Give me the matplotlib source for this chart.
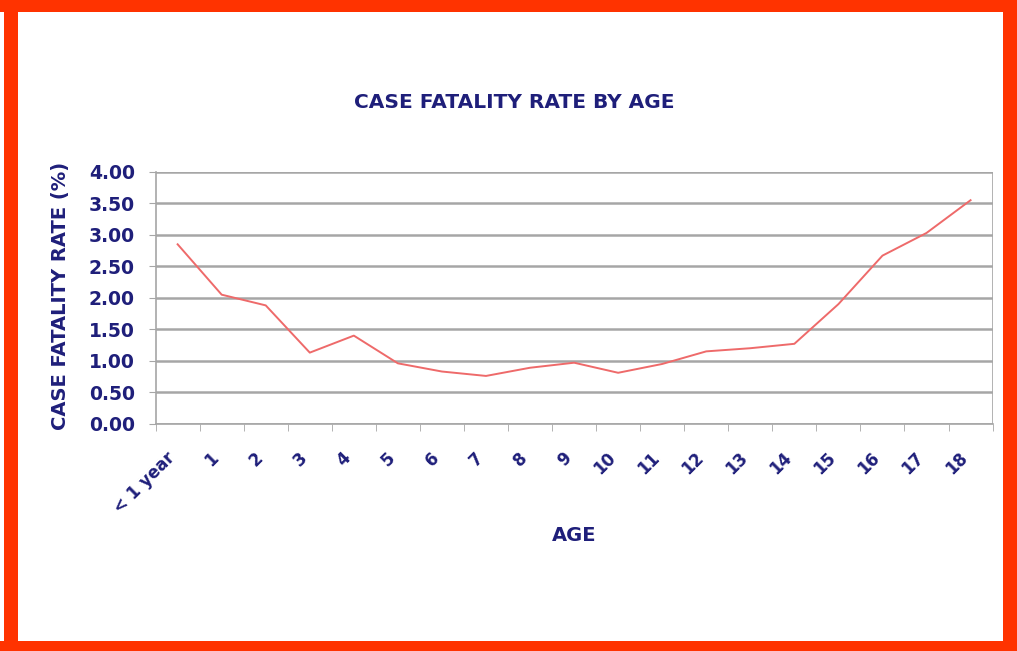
import matplotlib
matplotlib.use('Agg')
import matplotlib.pyplot as plt
from matplotlib.patches import Rectangle

ages = ['< 1 year', '1', '2', '3', '4', '5', '6', '7', '8', '9',
        '10', '11', '12', '13', '14', '15', '16', '17', '18']
cfr = [2.85, 2.05, 1.88, 1.13, 1.40, 0.96, 0.83, 0.76, 0.89, 0.97,
       0.81, 0.95, 1.15, 1.20, 1.27, 1.90, 2.67, 3.03, 3.55]
yticks = [0.0, 0.5, 1.0, 1.5, 2.0, 2.5, 3.0, 3.5, 4.0]

navy = '#1f1f7a'
grid_gray = '#a6a6a6'


def main():
    plt.rcParams['font.family'] = ['DejaVu Sans']
    fig = plt.figure(figsize=(10.17, 6.51), dpi=100)
    fig.patch.set_facecolor('white')

    # red frame round the picture
    red = '#ff3300'
    for x0, y0, w, h in [(0.004, 0, 0.014, 1), (0.986, 0, 0.014, 1),
                         (0, 0.982, 1, 0.018), (0, 0, 1, 0.016)]:
        fig.patches.append(Rectangle((x0, y0), w, h, transform=fig.transFigure,
                                     facecolor=red, edgecolor='none', zorder=10))

    ax = fig.add_axes([0.153, 0.349, 0.823, 0.387])
    x = list(range(len(ages)))
    ax.plot(x, cfr, color='#ee6a6a', linewidth=1.4, zorder=3)

    ax.set_xlim(-0.5, len(ages) - 0.5)
    ax.set_ylim(0, 4)
    ax.set_yticks(yticks)
    ax.set_yticklabels([f'{v:.2f}' for v in yticks], fontsize=13.5,
                       fontweight='bold', color=navy)
    ax.yaxis.grid(True, color=grid_gray, linewidth=1.8)
    ax.set_axisbelow(True)

    # rotated labels sit a little left of the category centre, like Excel
    ax.set_xticks([i - 0.27 for i in x])
    ax.set_xticklabels(ages, rotation=45, ha='right', rotation_mode='anchor',
                       fontsize=12, fontweight='bold', color=navy)
    ax.tick_params(axis='x', which='major', length=0, pad=18)
    ax.set_xticks([i - 0.5 for i in range(len(ages) + 1)], minor=True)
    ax.tick_params(axis='x', which='minor', length=5, color=grid_gray,
                   direction='out')
    ax.tick_params(axis='y', length=5, color=grid_gray, direction='out', pad=10)

    for side in ['top', 'right']:
        ax.spines[side].set_visible(False)
    ax.spines['left'].set_color(grid_gray)
    ax.spines['bottom'].set_color(grid_gray)
    ax.spines['left'].set_linewidth(1.2)
    ax.spines['bottom'].set_linewidth(1.2)
    ax.axvline(len(ages) - 0.5, color=grid_gray, linewidth=1.2)

    fig.text(0.506, 0.842, 'CASE FATALITY RATE BY AGE', ha='center', va='center',
             fontsize=14.5, fontweight='bold', color=navy)
    fig.text(0.059, 0.545, 'CASE FATALITY RATE (%)', ha='center', va='center',
             rotation=90, fontsize=14, fontweight='bold', color=navy)
    fig.text(0.565, 0.178, 'AGE', ha='center', va='center',
             fontsize=14, fontweight='bold', color=navy)

    fig.savefig('out.png', dpi=100)


if __name__ == '__main__':
    main()
